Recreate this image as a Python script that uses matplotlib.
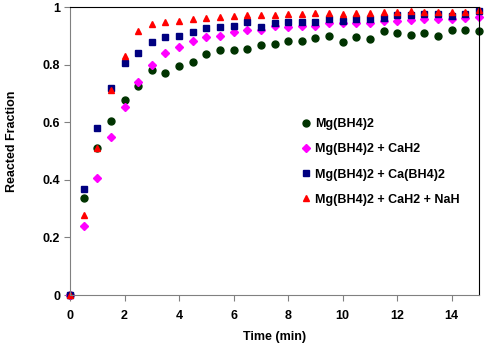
import numpy as np
import matplotlib
matplotlib.use("Agg")
import matplotlib.pyplot as plt

plt.rcParams['font.family'] = ['Liberation Sans', 'DejaVu Sans']

# time points (min), every 0.5 min
time = np.arange(0, 15.01, 0.5)

mg = [0, 0.338, 0.509, 0.603, 0.678, 0.724, 0.780, 0.772, 0.796, 0.808,
      0.836, 0.851, 0.851, 0.855, 0.868, 0.872, 0.882, 0.882, 0.894, 0.899,
      0.878, 0.896, 0.888, 0.915, 0.910, 0.903, 0.908, 0.899, 0.921, 0.919, 0.916]
mg_cah2 = [0, 0.238, 0.405, 0.549, 0.653, 0.740, 0.797, 0.839, 0.862, 0.883,
           0.896, 0.899, 0.914, 0.920, 0.919, 0.934, 0.929, 0.935, 0.935, 0.943,
           0.943, 0.946, 0.943, 0.953, 0.953, 0.955, 0.960, 0.957, 0.957, 0.963, 0.965]
mg_cabh4 = [0, 0.369, 0.581, 0.719, 0.807, 0.840, 0.880, 0.896, 0.900, 0.914,
            0.926, 0.929, 0.935, 0.949, 0.932, 0.946, 0.947, 0.947, 0.947, 0.957,
            0.953, 0.960, 0.960, 0.963, 0.972, 0.972, 0.974, 0.976, 0.969, 0.976, 0.986]
mg_cah2_nah = [0, 0.278, 0.511, 0.711, 0.830, 0.918, 0.941, 0.949, 0.950, 0.960,
               0.963, 0.967, 0.969, 0.972, 0.971, 0.971, 0.974, 0.976, 0.978, 0.978,
               0.976, 0.978, 0.980, 0.981, 0.981, 0.987, 0.984, 0.981, 0.981, 0.984, 0.990]

labels = ['Mg(BH4)2', 'Mg(BH4)2 + CaH2', 'Mg(BH4)2 + Ca(BH4)2', 'Mg(BH4)2 + CaH2 + NaH']

fig = plt.figure(figsize=(4.92, 3.47), dpi=100)
ax = fig.add_axes([70 / 492, 52 / 347, 409 / 492, 288 / 347])

ax.plot(time, mg, 'o', color='#003300', ms=5, mec='#003300', label=labels[0], clip_on=False)
ax.plot(time, mg_cah2, 'D', color='#FF00FF', ms=4, mec='#FF00FF', label=labels[1], clip_on=False)
ax.plot(time, mg_cabh4, 's', color='#000080', ms=4.5, mec='#000080', label=labels[2], clip_on=False)
ax.plot(time, mg_cah2_nah, '^', color='#FF0000', ms=5, mec='#FF0000', label=labels[3], clip_on=False)

ax.set_xlim(0, 15)
ax.set_ylim(0, 1)
ax.set_xticks(range(0, 15, 2))
ax.set_yticks([0, 0.2, 0.4, 0.6, 0.8, 1])
ax.set_yticklabels(['0', '0.2', '0.4', '0.6', '0.8', '1'])

for s in ['left', 'bottom']:
    ax.spines[s].set_color('#808080')
for s in ['top', 'right']:
    ax.spines[s].set_color('black')
ax.tick_params(direction='out', length=4, color='#808080', labelsize=9)
ax.tick_params(axis='x', pad=7)
ax.tick_params(axis='y', pad=3)
for lbl in ax.get_xticklabels() + ax.get_yticklabels():
    lbl.set_fontweight('bold')

ax.set_xlabel('Time (min)', fontsize=9, fontweight='bold')
ax.set_ylabel('Reacted Fraction', fontsize=9, fontweight='bold')
ax.xaxis.set_label_coords(0.501, -0.125)
ax.yaxis.set_label_coords(-0.126, 0.533)

leg = ax.legend(loc='upper left', bbox_to_anchor=(0.547, 0.631), frameon=False,
                prop={'size': 9, 'weight': 'bold'}, handletextpad=0.1,
                handlelength=1.2, labelspacing=1.05, borderaxespad=0)

fig.savefig('out.png', dpi=100)
